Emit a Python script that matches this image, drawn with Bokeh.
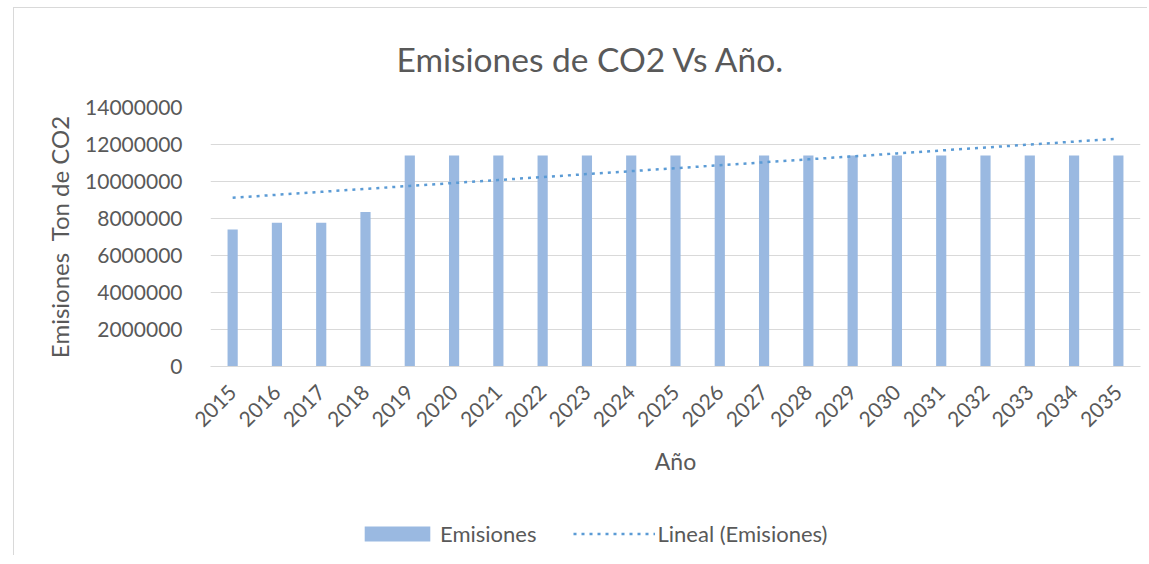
import numpy as np
from bokeh.plotting import figure
from bokeh.layouts import column
from bokeh.models import (Range1d, FactorRange, FixedTicker, BasicTickFormatter,
                          Legend, LegendItem, Title, ColumnDataSource)
from bokeh.embed import file_html
from bokeh.resources import INLINE

years = [str(y) for y in range(2015, 2036)]
emisiones = [7410000, 7770000, 7770000, 8350000] + [11400000] * 17
y_ticks = [0, 2000000, 4000000, 6000000, 8000000, 10000000, 12000000, 14000000]

# Linear trendline (least squares fit, like Excel's "Lineal")
idx = np.arange(len(years))
slope, intercept = np.polyfit(idx, np.array(emisiones, dtype=float), 1)
trend = list(intercept + slope * idx)

FONT = "Lato"
TXT = "#595959"
GRID = "#d9d9d9"
BAR = "#9ab9e1"
LINE = "#5b9bd5"
BAR_W = 0.23
DASH = "3 5"

p = figure(x_range=FactorRange(*years), y_range=Range1d(0, 14000000),
           width=1134, height=492, output_backend="svg", toolbar_location=None,
           min_border_left=196, min_border_right=8, min_border_top=98,
           min_border_bottom=134)
p.styles = {"border-left": "1px solid #d9d9d9", "border-top": "1px solid #d9d9d9",
            "margin-left": "13px", "margin-top": "7px"}

src = ColumnDataSource(dict(x=years, y=emisiones, t=trend))
p.vbar(x="x", top="y", width=BAR_W, source=src, color=BAR, line_color=None)
p.line(x="x", y="t", source=src, line_color=LINE, line_width=2.5, line_dash=DASH)

p.title = Title(text="Emisiones de CO2 Vs Año.", text_font=FONT, text_font_size="33.5px",
                text_font_style="normal", text_color=TXT, align="left", offset=186,
                standoff=57)

p.outline_line_color = None
p.xgrid.grid_line_color = None
p.ygrid.grid_line_color = GRID
p.ygrid.grid_line_width = 1

p.yaxis.ticker = FixedTicker(ticks=y_ticks)
p.yaxis.formatter = BasicTickFormatter(use_scientific=False)
p.yaxis.axis_line_color = None
p.yaxis.major_tick_line_color = None
p.yaxis.minor_tick_line_color = None
p.yaxis.major_label_standoff = 22
p.yaxis.axis_label = "Emisiones \u00a0Ton de CO2"
p.yaxis.axis_label_standoff = 8

p.xaxis.axis_line_color = GRID
p.xaxis.major_tick_line_color = None
p.xaxis.minor_tick_line_color = None
p.xaxis.major_label_orientation = np.pi / 4
p.xaxis.major_label_standoff = 16
p.xaxis.axis_label = "Año"
p.xaxis.axis_label_standoff = 10

for ax in (p.xaxis[0], p.yaxis[0]):
    ax.major_label_text_font = FONT
    ax.major_label_text_font_size = "21px"
    ax.major_label_text_color = TXT
    ax.axis_label_text_font = FONT
    ax.axis_label_text_font_size = "24px"
    ax.axis_label_text_font_style = "normal"
    ax.axis_label_text_color = TXT
p.xaxis.axis_label_text_font_size = "23px"

# Legend strip below the chart (same styling; its data range lies out of view)
leg = figure(width=1134, height=56, output_backend="svg", toolbar_location=None,
             x_range=FactorRange(*years), y_range=Range1d(20000000, 21000000),
             min_border_left=196, min_border_right=8, min_border_top=0, min_border_bottom=0)
leg.styles = {"border-left": "1px solid #d9d9d9", "margin-left": "13px"}
leg.axis.visible = False
leg.grid.visible = False
leg.outline_line_color = None
r_bar = leg.vbar(x="x", top="y", width=BAR_W, source=src, color=BAR, line_color=None)
r_line = leg.line(x="x", y="t", source=src, line_color=LINE, line_width=2.5, line_dash=DASH)

legend = Legend(items=[LegendItem(label="Emisiones", renderers=[r_bar]),
                       LegendItem(label="Lineal (Emisiones)", renderers=[r_line])],
                location=(146, 8), orientation="horizontal",
                glyph_width=82, glyph_height=19, label_standoff=2, spacing=37,
                padding=0, margin=0, border_line_color=None, background_fill_alpha=0,
                label_text_font=FONT, label_text_font_size="22px", label_text_color=TXT)
leg.add_layout(legend, "center")

layout = column(p, leg, spacing=0)
open("out.html", "w").write(file_html(layout, INLINE))
